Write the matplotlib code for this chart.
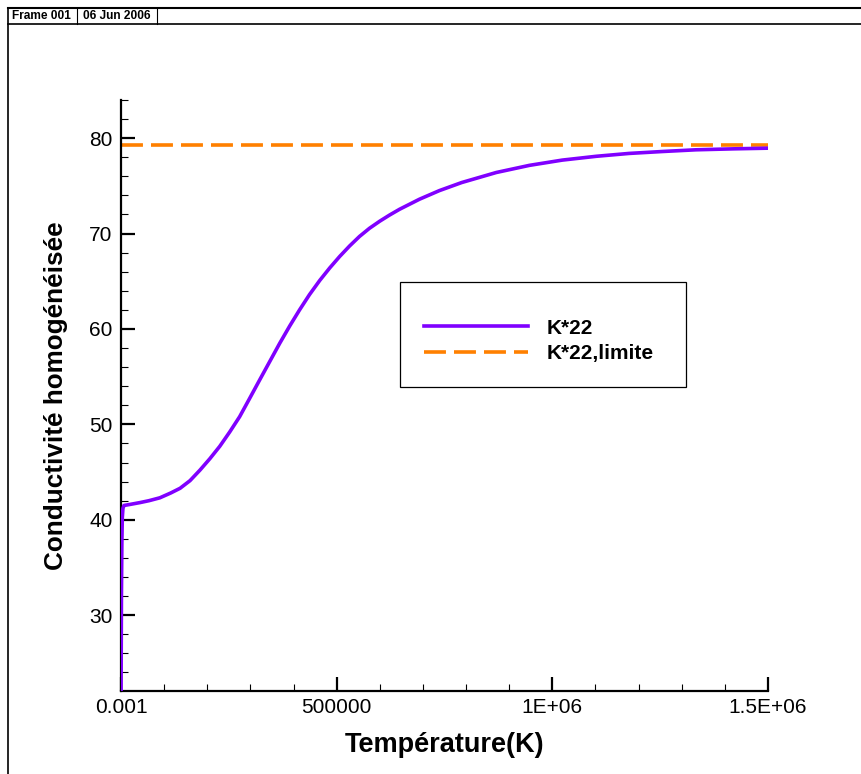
import matplotlib
matplotlib.use('Agg')
import matplotlib.pyplot as plt
from matplotlib import font_manager
from matplotlib.lines import Line2D
from matplotlib.patches import Rectangle
from matplotlib.ticker import MultipleLocator, FixedLocator

# data (temperature in K, homogenised conductivity)
temperature = [0.001, 1000, 2000, 3000, 4500, 7000, 20000, 44000, 65000, 90000,
               115000, 137000, 160000, 183000, 206000, 229000, 252000, 275000,
               298000, 322000, 345000, 368000, 391000, 414000, 437000, 461000,
               484000, 507000, 530000, 553000, 576000, 600000, 623000, 646000,
               692000, 738000, 790000, 870000, 947000, 1023000, 1102000, 1178000,
               1255000, 1333000, 1420000, 1500000]
k22 = [20.0, 32.0, 37.5, 40.2, 41.2, 41.5, 41.6, 41.8, 42.0, 42.3,
       42.8, 43.3, 44.1, 45.2, 46.4, 47.7, 49.2, 50.8,
       52.7, 54.7, 56.6, 58.5, 60.3, 62.0, 63.6, 65.1,
       66.4, 67.6, 68.7, 69.7, 70.55, 71.3, 71.95, 72.55,
       73.6, 74.5, 75.35, 76.4, 77.15, 77.7, 78.1, 78.4,
       78.6, 78.78, 78.88, 78.95]
limit_x = [0.001, 1500000]
limit_k = [79.25, 79.25]

xticks = [0.001, 500000, 1000000, 1500000]
xticklabels = ['0.001', '500000', '1E+06', '1.5E+06']
yticks = [30, 40, 50, 60, 70, 80]

names = {f.name for f in font_manager.fontManager.ttflist}
base = 'Liberation Sans' if 'Liberation Sans' in names else 'DejaVu Sans'
narrow = 'Liberation Sans Narrow' if 'Liberation Sans Narrow' in names else base
plt.rcParams['font.family'] = [base, 'DejaVu Sans']
plt.rcParams['lines.scale_dashes'] = False

W, H = 861, 774
fig = plt.figure(figsize=(W / 100, H / 100), dpi=100)

# tecplot style frame + header
def px_line(x0, y0, x1, y1, lw=1.2):
    fig.add_artist(Line2D([x0 / W, x1 / W], [1 - y0 / H, 1 - y1 / H],
                          transform=fig.transFigure, color='black', lw=lw))

px_line(8, 7.5, W, 7.5, 1.5)
px_line(8, 24, W, 24, 1.2)
px_line(8, 7.5, 8, H, 1.2)
px_line(77, 7.5, 77, 24, 0.8)
px_line(157, 7.5, 157, 24, 0.8)
fig.text(12 / W, 1 - 16 / H, 'Frame 001', fontsize=8.6, fontweight='bold', va='center')
fig.text(83 / W, 1 - 16 / H, '06 Jun 2006', fontsize=8.6, fontweight='bold', va='center')

left, bottom, right, top = 121, 691, 768, 100
ax = fig.add_axes([left / W, 1 - bottom / H, (right - left) / W, (bottom - top) / H])

ax.plot(temperature, k22, color='#8000ff', lw=2.6, label='K*22', zorder=3)
ax.plot(limit_x, limit_k, color='#ff8000', lw=2.6, linestyle=(0, (15.8, 5.8)),
        label='K*22,limite', zorder=2)

ax.set_xlim(0.001, 1500000)
ax.set_ylim(22.05, 84)

for s in ['top', 'right']:
    ax.spines[s].set_visible(False)
for s in ['left', 'bottom']:
    ax.spines[s].set_linewidth(1.6)

ax.xaxis.set_major_locator(FixedLocator(xticks))
ax.set_xticklabels(xticklabels, fontfamily=narrow, fontsize=15)
ax.xaxis.set_minor_locator(MultipleLocator(100000))
ax.yaxis.set_major_locator(FixedLocator(yticks))
ax.yaxis.set_minor_locator(MultipleLocator(2))
ax.tick_params(which='major', direction='in', length=10, width=1.6, labelsize=15, pad=6)
ax.tick_params(which='minor', direction='in', length=5, width=0.8)
ax.tick_params(axis='x', which='major', pad=5)

ax.set_xlabel('Température(K)', fontsize=19.5, fontweight='bold', fontfamily=narrow)
ax.xaxis.set_label_coords(0.5, -0.091)
ax.xaxis.label.set_va('center')
ax.set_ylabel('Conductivité homogénéisée', fontsize=18.8, fontweight='bold')
ax.yaxis.set_label_coords(-0.1, 0.5)
ax.yaxis.label.set_va('center')

# legend box like tecplot
fig.add_artist(Rectangle((400 / W, 1 - 387 / H), 286 / W, 105 / H,
                         transform=fig.transFigure, fill=False, ec='black', lw=0.9))
leg = ax.legend(loc='center left', bbox_to_anchor=(424 / W, 1 - 341 / H),
                bbox_transform=fig.transFigure, frameon=False, borderpad=0,
                borderaxespad=0, handlelength=5.0, handletextpad=0.9,
                labelspacing=0.32, prop={'weight': 'bold', 'size': 15})

fig.savefig('out.png', dpi=100)
